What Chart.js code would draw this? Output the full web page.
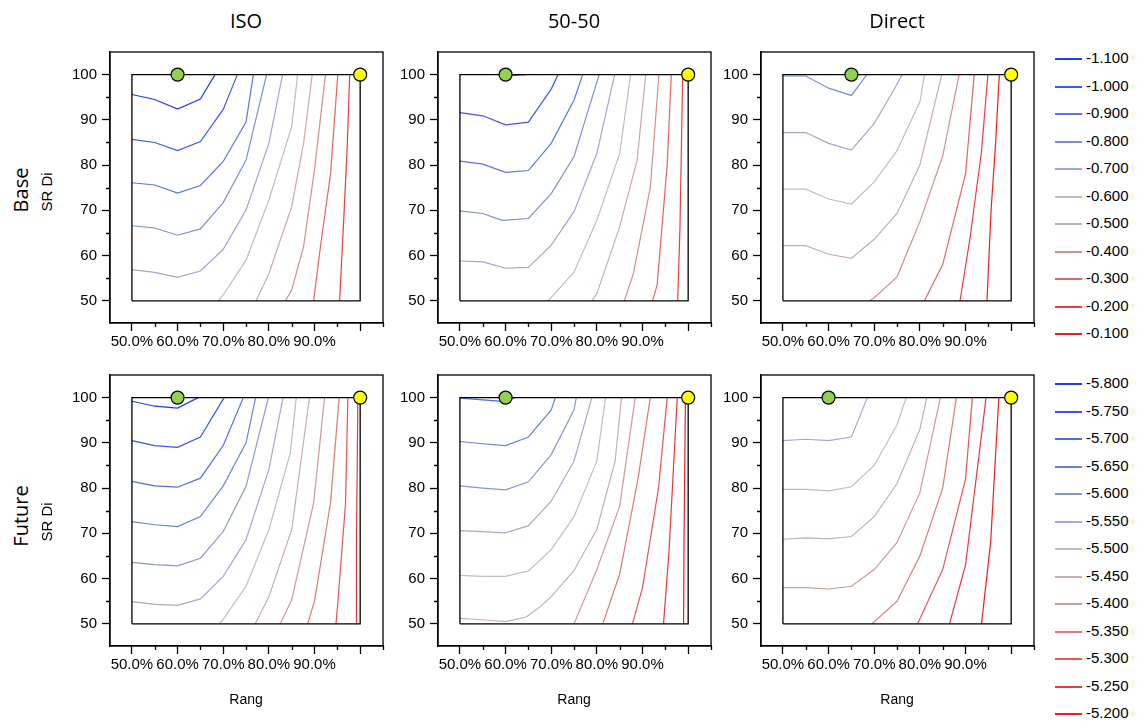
<!DOCTYPE html>
<html>
<head>
<meta charset="utf-8">
<script src="https://cdn.jsdelivr.net/npm/chart.js@4.4.1/dist/chart.umd.min.js"></script>
<style>
  body { margin: 0; background: #fff; width: 1138px; height: 721px; position: relative; overflow: hidden;
         font-family: "Liberation Sans", Arial, sans-serif; color: #000; }
  canvas { position: absolute; }
  .lbl { position: absolute; white-space: nowrap; transform: translate(-50%, -50%); }
  .title { font-family: "Open Sans", sans-serif; font-size: 20px; }
  .rot { transform: translate(-50%, -50%) rotate(-90deg); }
  .leg { position: absolute; font-size: 15px; line-height: 18px; height: 18px; white-space: nowrap; }
  .leg i { position: absolute; left: 0; top: 9px; width: 27px; height: 2px; }
  .leg span { position: absolute; left: 31px; top: 0; }
</style>
</head>
<body>
<script>
// ---- data ----
var columns = ["ISO", "50-50", "Direct"];
var rows = ["Base", "Future"];
var xTicks = [50, 60, 70, 80, 90, 100];
var yTicks = [50, 60, 70, 80, 90, 100];
var baseLevels = [-1.1, -1.0, -0.9, -0.8, -0.7, -0.6, -0.5, -0.4, -0.3, -0.2, -0.1];
var futureLevels = [-5.8, -5.75, -5.7, -5.65, -5.6, -5.55, -5.5, -5.45, -5.4, -5.35, -5.3, -5.25, -5.2];
var greenX = [60, 60, 65, 60, 60, 60];   // optimum point per panel (at SR Di = 100)
var yellowX = [100, 100, 100, 100, 100, 100];

var isoBaseLevels = [-1.1, -1.0, -0.9, -0.8, -0.7, -0.6, -0.5, -0.4, -0.3, -0.2];
var isoBaseLines = [
  [[50,95.6],[55,94.5],[60,92.4],[65,94.6],[68.2,100]],
  [[50,85.7],[55,85.0],[60,83.2],[65,85.2],[70,92.3],[73.1,100]],
  [[50,76.1],[55,75.6],[60,73.8],[65,75.5],[70,80.8],[75,89.5],[76.6,100]],
  [[50,66.6],[55,66.1],[60,64.5],[65,65.9],[70,71.7],[75,81.1],[79.5,100]],
  [[50,56.9],[55,56.3],[60,55.2],[65,56.6],[70,61.4],[75,70.1],[80,84.8],[83,100]],
  [[68.9,50],[70,51.3],[75,59],[80,72.3],[85,88.5],[86.3,100]],
  [[77.2,50],[80,56],[85,70.8],[87.6,84.8],[89.5,100]],
  [[83.6,50],[85,52.4],[87.6,62],[90,79],[92.4,100]],
  [[89.8,50],[91.3,62],[93.5,78],[95.1,100]],
  [[95.5,50],[96.5,70],[97.2,85],[97.7,100]]
];

var mixBaseLevels = [-1.1, -1.0, -0.9, -0.8, -0.7, -0.6, -0.5, -0.4, -0.3, -0.2];
var mixBaseLines = [
  [[61,99.8],[64.5,100]],
  [[50,91.6],[55,90.9],[60,88.9],[65,89.5],[70,96.8],[71.5,100]],
  [[50,80.9],[55,80.2],[60,78.4],[65,78.8],[70,84.8],[75,94.4],[76.9,100]],
  [[50,69.9],[55,69.3],[59.3,67.8],[65,68.2],[70,73.7],[75,81.9],[80.5,100]],
  [[50,58.8],[55,58.6],[60,57.2],[65,57.4],[70,62.3],[75,69.7],[80,82.6],[83.9,100]],
  [[69.3,50],[70,50.7],[75,56.4],[80,67.8],[85,82.6],[87.4,100]],
  [[78.9,50],[80,51.6],[85,66.4],[88.8,81],[90.7,100]],
  [[86,50],[88,56],[91.7,75],[93.6,100]],
  [[92.2,50],[93.2,53.5],[95.4,80],[96.3,100]],
  [[97.7,50],[98.2,66],[98.8,100]]
];

var directBaseLevels = [-0.8, -0.7, -0.6, -0.5, -0.4, -0.3, -0.2, -0.1];
var directBaseLines = [
  [[50,99.7],[55,99.7],[60,97.0],[65,95.4],[68.4,100]],
  [[50,87.2],[55,87.2],[60,84.8],[65,83.3],[70,89.2],[74.5,97],[76.1,100]],
  [[50,74.7],[55,74.7],[60,72.5],[65,71.4],[70,76.3],[75,83.2],[80,94],[81,100]],
  [[50,62.2],[55,62.2],[60,60.3],[65,59.4],[70,63.6],[75,69.3],[80,80],[84.8,100]],
  [[69,50],[70,50.7],[75,55.3],[80,67.5],[85,82],[88.6,100]],
  [[81,50],[85,58],[90,78],[91.9,100]],
  [[88.8,50],[91,64],[93.5,83],[94.9,100]],
  [[94.7,50],[95.6,70],[96.6,85],[97.4,100]]
];

var isoFutureLevels = [-5.8, -5.75, -5.7, -5.65, -5.6, -5.55, -5.5, -5.45, -5.4, -5.35, -5.3, -5.25];
var isoFutureLines = [
  [[50,99.2],[55,98.1],[60,97.7],[64.5,100]],
  [[50,90.5],[55,89.4],[60,89.0],[65,91.3],[70.2,100]],
  [[50,81.5],[55,80.5],[60,80.2],[65,82.2],[70,89.4],[74.4,100]],
  [[50,72.6],[55,71.9],[60,71.5],[65,73.7],[70,80.5],[75,90],[77.1,100]],
  [[50,63.6],[55,63.1],[60,62.8],[65,64.5],[70,70.4],[75,80.4],[79.9,100]],
  [[50,54.9],[55,54.3],[60,54.1],[65,55.5],[70,60.5],[75,68.6],[80,84.1],[83.1,100]],
  [[69.1,50],[70,51],[75,58.3],[80,70.8],[84.7,87.8],[86,100]],
  [[77,50],[80,56],[85,70.8],[88.9,100]],
  [[82.5,50],[85,55.3],[89.8,76.7],[92.2,100]],
  [[88.5,50],[90,55],[93.5,76.7],[95.4,100]],
  [[94.7,50],[95.1,54.6],[96.8,76.7],[97.3,100]],
  [[99.1,50],[99.2,69.3],[99.5,100]]
];

var mixFutureLevels = [-5.7, -5.65, -5.6, -5.55, -5.5, -5.45, -5.4, -5.35, -5.3, -5.25, -5.2];
var mixFutureLines = [
  [[50,99.9],[55,99.5],[60,99.1],[62,100]],
  [[50,90.3],[55,89.8],[60,89.4],[65,91.3],[70,97.3],[70.9,100]],
  [[50,80.5],[55,80.0],[60,79.6],[65,81.4],[70,87.4],[75,97.3],[75.5,100]],
  [[50,70.6],[55,70.4],[60,70.1],[65,71.7],[70,77.1],[75,86],[78.9,100]],
  [[50,60.7],[55,60.5],[60,60.5],[65,61.7],[70,66.4],[75,73.7],[80,86],[81.9,100]],
  [[50,51.2],[55,50.9],[60,50.5],[64.5,51.5],[67.5,53.7],[70,56],[75,61.8],[80,70.9],[84,86],[85.4,100]],
  [[75,50],[80,62],[85,76],[88.4,100]],
  [[81.3,50],[85,61],[89,82],[91.7,100]],
  [[87.8,50],[90,58],[93.5,80],[95.4,100]],
  [[94.6,50],[95.8,66],[97.6,100]],
  [[99,50],[99.1,69],[99.4,100]]
];

var directFutureLevels = [-5.55, -5.5, -5.45, -5.4, -5.35, -5.3, -5.25, -5.2];
var directFutureLines = [
  [[50,90.5],[55,90.8],[60,90.5],[65,91.3],[68.5,100]],
  [[50,79.7],[55,79.7],[60,79.4],[65,80.3],[70,85],[75,94],[77,100]],
  [[50,68.7],[55,69],[60,68.8],[65,69.3],[70,73.7],[75,81],[80,93],[81.5,100]],
  [[50,58],[55,58],[60,57.7],[65,58.3],[70,62],[75,68],[80,79],[84.5,100]],
  [[69.5,50],[75,55],[80,65],[85,80],[88,100]],
  [[79.5,50],[85,62],[90,82],[91.5,100]],
  [[86.5,50],[90,63],[94.5,100]],
  [[93.5,50],[95.5,68],[97.3,100]]
];

// ---- layout ----
var FONT = "'Liberation Sans', Arial, sans-serif";
var colLeft = [110, 438, 761];   // left edge of each panel frame
var rowTop = [52, 375];          // top edge of each panel frame
var BOX_W = 273, BOX_H = 271, PAD_L = 50, PAD_B = 40;

// blue -> grey -> red colour map, t in [0,1]
var cmap = [
  [0.0, [30, 60, 240]], [0.2, [90, 115, 230]], [0.4, [160, 165, 210]], [0.5, [190, 190, 196]],
  [0.6, [200, 172, 172]], [0.7, [212, 142, 142]], [0.8, [226, 100, 100]], [0.9, [233, 62, 62]],
  [1.0, [236, 32, 32]]
];
function levelColor(t) {
  for (var i = 1; i < cmap.length; i++) {
    if (t <= cmap[i][0] + 1e-9) {
      var a = cmap[i - 1], b = cmap[i], f = (t - a[0]) / (b[0] - a[0]);
      return 'rgb(' + [0, 1, 2].map(function (k) { return Math.round(a[1][k] + (b[1][k] - a[1][k]) * f); }).join(',') + ')';
    }
  }
  return 'rgb(236,32,32)';
}
function colorFor(level, levels) {
  var i = levels.indexOf(level);
  return levelColor(i / (levels.length - 1));
}

var framePlugin = {
  id: 'frame',
  afterDraw: function (chart) {
    var c = chart.ctx, a = chart.chartArea, xs = chart.scales.x, ys = chart.scales.y;
    c.save();
    c.strokeStyle = '#000';
    c.lineWidth = 1.3;
    c.strokeRect(a.left, a.top, a.right - a.left, a.bottom - a.top);
    c.beginPath();
    [55, 65, 75, 85, 95, 105].forEach(function (v) {
      var px = Math.round(xs.getPixelForValue(v)) + 0.5;
      c.moveTo(px, a.bottom); c.lineTo(px, a.bottom + 4);
    });
    [55, 65, 75, 85, 95].forEach(function (v) {
      var py = Math.round(ys.getPixelForValue(v)) + 0.5;
      c.moveTo(a.left, py); c.lineTo(a.left - 4, py);
    });
    c.stroke();
    c.restore();
  }
};

function makePanel(idx, lines, levels, allLevels) {
  var r = Math.floor(idx / 3), col = idx % 3;
  var cv = document.createElement('canvas');
  var w = BOX_W + PAD_L + 20, h = BOX_H + PAD_B + 30;
  cv.width = w; cv.height = h;
  cv.style.width = w + 'px'; cv.style.height = h + 'px';
  document.body.appendChild(cv);

  var datasets = [];
  datasets.push({ data: [{ x: greenX[idx], y: 100 }], pointRadius: 6.5, pointBackgroundColor: '#92d050',
                  pointBorderColor: '#000', pointBorderWidth: 1.2, showLine: false, order: -3 });
  datasets.push({ data: [{ x: yellowX[idx], y: 100 }], pointRadius: 6.5, pointBackgroundColor: '#ffff00',
                  pointBorderColor: '#000', pointBorderWidth: 1.2, showLine: false, order: -3 });
  datasets.push({ data: [{ x: 50, y: 50 }, { x: 100, y: 50 }, { x: 100, y: 100 }, { x: 50, y: 100 }, { x: 50, y: 50 }],
                  showLine: true, borderColor: '#000', borderWidth: 1.3, pointRadius: 0, order: -2 });
  lines.forEach(function (pts, i) {
    datasets.push({
      data: pts.map(function (p) { return { x: p[0], y: p[1] }; }),
      showLine: true, borderColor: colorFor(levels[i], allLevels), borderWidth: 1.2,
      pointRadius: 0, tension: 0, order: 0
    });
  });

  var chart = new Chart(cv, {
    type: 'scatter',
    data: { datasets: datasets },
    plugins: [framePlugin],
    options: {
      responsive: false, maintainAspectRatio: false, animation: false,
      layout: { padding: { left: 0, top: 10, right: 10, bottom: 0 } },
      plugins: { legend: { display: false }, tooltip: { enabled: false } },
      scales: {
        x: {
          type: 'linear', min: 45.2, max: 105.0,
          afterBuildTicks: function (s) { s.ticks = xTicks.map(function (v) { return { value: v }; }); },
          afterFit: function (s) { s.height = PAD_B; },
          ticks: { autoSkip: false, maxRotation: 0, minRotation: 0, padding: 2, color: '#000',
                   font: { family: FONT, size: 15 },
                   callback: function (v) { return v === 100 ? '' : v.toFixed(1) + '%'; } },
          grid: { drawOnChartArea: false, tickLength: 8, tickColor: '#000', tickWidth: 1.3 },
          border: { color: '#000', width: 1.3 }
        },
        y: {
          type: 'linear', min: 45.1, max: 105.0,
          afterBuildTicks: function (s) { s.ticks = yTicks.map(function (v) { return { value: v }; }); },
          afterFit: function (s) { s.width = PAD_L; },
          ticks: { padding: 5, color: '#000', font: { family: FONT, size: 15 } },
          grid: { drawOnChartArea: false, tickLength: 8, tickColor: '#000', tickWidth: 1.3 },
          border: { color: '#000', width: 1.3 }
        }
      }
    }
  });

  // make the frame exactly BOX_W x BOX_H, then place the canvas so the frame sits where it should
  var ca = chart.chartArea;
  var nw = w + BOX_W - Math.round(ca.right - ca.left);
  var nh = h + BOX_H - Math.round(ca.bottom - ca.top);
  if (nw !== w || nh !== h) { chart.resize(nw, nh); ca = chart.chartArea; }
  cv.style.left = (colLeft[col] - ca.left) + 'px';
  cv.style.top = (rowTop[r] - ca.top) + 'px';
}

function addText(txt, x, y, cls, style) {
  var d = document.createElement('div');
  d.className = 'lbl ' + (cls || '');
  d.textContent = txt;
  d.style.left = x + 'px'; d.style.top = y + 'px';
  if (style) d.setAttribute('style', d.getAttribute('style') + ';' + style);
  document.body.appendChild(d);
}

function addLegend(levels, top, decimals) {
  levels.forEach(function (lv, i) {
    var d = document.createElement('div');
    d.className = 'leg';
    d.style.left = '1055px';
    d.style.top = Math.round(top + i * 27.5 - 9) + 'px';
    var sw = document.createElement('i');
    sw.style.background = levelColor(i / (levels.length - 1));
    var tx = document.createElement('span');
    tx.textContent = lv.toFixed(decimals);
    d.appendChild(sw);
    d.appendChild(tx);
    document.body.appendChild(d);
  });
}

makePanel(0, isoBaseLines, isoBaseLevels, baseLevels);
makePanel(1, mixBaseLines, mixBaseLevels, baseLevels);
makePanel(2, directBaseLines, directBaseLevels, baseLevels);
makePanel(3, isoFutureLines, isoFutureLevels, futureLevels);
makePanel(4, mixFutureLines, mixFutureLevels, futureLevels);
makePanel(5, directFutureLines, directFutureLevels, futureLevels);

columns.forEach(function (c, i) {
  addText(c, colLeft[i] + 22 + 114, 20, 'title');
  addText('Rang', colLeft[i] + 22 + 114, 699, '', 'font-size:14px');
});
addText(rows[0], 20, 190, 'title rot');
addText('SR Di', 46, 192, 'rot', 'font-size:15px');
addText(rows[1], 20, 516, 'title rot');
addText('SR Di', 46, 522, 'rot', 'font-size:15px');

addLegend(baseLevels, 58, 3);
addLegend(futureLevels, 383, 3);
</script>
</body>
</html>
